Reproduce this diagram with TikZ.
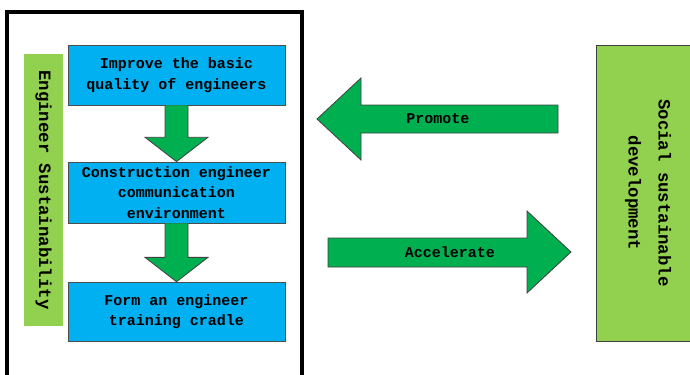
\documentclass[tikz,border=0pt]{standalone}
\usepackage{fontspec}
\setmonofont{Liberation Mono}
\usetikzlibrary{calc}
\definecolor{boxblue}{HTML}{00B0F0}
\definecolor{arrgreen}{HTML}{00B050}
\definecolor{lightgreen}{HTML}{92D050}
\begin{document}
\begin{tikzpicture}[x=0.75pt, y=-0.75pt,
  step box/.style = {draw=black!70, fill=boxblue, minimum width=217*0.75pt, minimum height=59*0.75pt, align=center, font=\ttfamily\bfseries\fontsize{11.25}{15.5}\selectfont},
  side box/.style = {fill=lightgreen, rotate=-90, align=center, font=\ttfamily\bfseries\fontsize{13}{22.5}\selectfont},
  block arrow/.style = {fill=arrgreen, draw=black!75, line width=0.6pt},
  arrow text/.style = {font=\ttfamily\bfseries\fontsize{11.25}{15}\selectfont}]
  \clip (0,0) rectangle (690,375);
  % outer frame
  \draw[line width=3pt] (7,12) rectangle (302,395);
  \node[side box, minimum width=272*0.75pt, minimum height=39*0.75pt] (es) at (43.5,190) {Engineer Sustainability};
  \node[step box, minimum height=60*0.75pt] (b1) at (176.5,75) {Improve the basic\\quality of engineers};
  \node[step box] (b2) at (176.5,192.5) {Construction engineer\\communication\\environment};
  \node[step box] (b3) at (176.5,311.5) {Form an engineer\\training cradle};
  % down arrows
  \draw[block arrow] ($(b1.south)+(-11.5,0)$) -- ++(0,32) -- ++(-20,0) -- (b2.north) -- ($(b1.south)+(31.5,32)$) -- ++(-20,0) -- ($(b1.south)+(11.5,0)$);
  \draw[block arrow] ($(b2.south)+(-11.5,0)$) -- ++(0,34) -- ++(-20,0) -- (b3.north) -- ($(b2.south)+(31.5,34)$) -- ++(-20,0) -- ($(b2.south)+(11.5,0)$);
  % social box
  \node[side box, draw=black!75, minimum width=296*0.75pt, minimum height=104*0.75pt] (sd) at (648,193) {Social sustainable\\development};
  % horizontal arrows
  \draw[block arrow] (317,119) -- (361,78) -- (361,105) -- (558,105) -- (558,133) -- (361,133) -- (361,160) -- cycle;
  \node[arrow text] (pro) at (438,119) {Promote};
  \draw[block arrow] (571,252) -- (527,211) -- (527,238) -- (328,238) -- (328,267) -- (527,267) -- (527,293) -- cycle;
  \node[arrow text] (acc) at (450,252) {Accelerate};
\end{tikzpicture}
\end{document}
